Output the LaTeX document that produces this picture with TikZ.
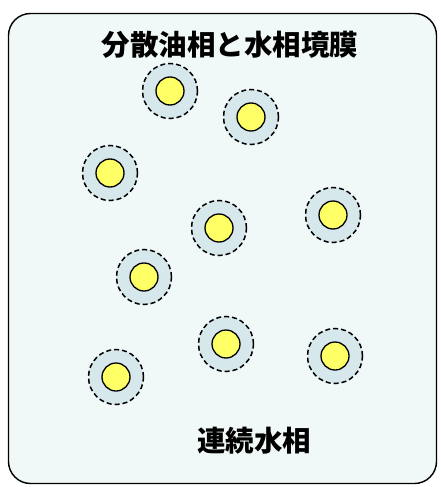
\documentclass[tikz,border=0pt]{standalone}
\usepackage{fontspec}
\newfontfamily\cjk{Noto Sans CJK JP}
\definecolor{bgc}{HTML}{F1F8F8}
\definecolor{ringc}{HTML}{D6E8EC}
\definecolor{yel}{HTML}{FFFF66}
\begin{document}
\begin{tikzpicture}[x=1pt,y=-1pt,
  ring/.style={circle,draw=black,dash pattern=on 5pt off 3pt,line width=1.5pt,fill=ringc,minimum size=55pt,inner sep=0pt},
  core/.style={circle,draw=black,line width=1.3pt,fill=yel,minimum size=28pt,inner sep=0pt},
  lbl/.style={font=\cjk\bfseries\fontsize{28.5}{32}\selectfont}]
\useasboundingbox (0,0) rectangle (441,487);
\node[draw=black,line width=1.4pt,fill=bgc,rounded corners=22pt,minimum width=428pt,minimum height=470pt,inner sep=0pt] (box) at (222.5,248.5) {};
\node[lbl] (title) at (230,45) {分散油相と水相境膜};
\node[lbl] (cont) at (254,441) {連続水相};
\foreach \n/\x/\y in {a/170/91,b/251/117,c/110/173,d/219/228,e/333/215,f/144/277,g/226/344,h/335/356,i/116/377}{
  \node[ring] (r\n) at (\x,\y) {};
  \node[core] (c\n) at (\x,\y) {};
}
\end{tikzpicture}
\end{document}
